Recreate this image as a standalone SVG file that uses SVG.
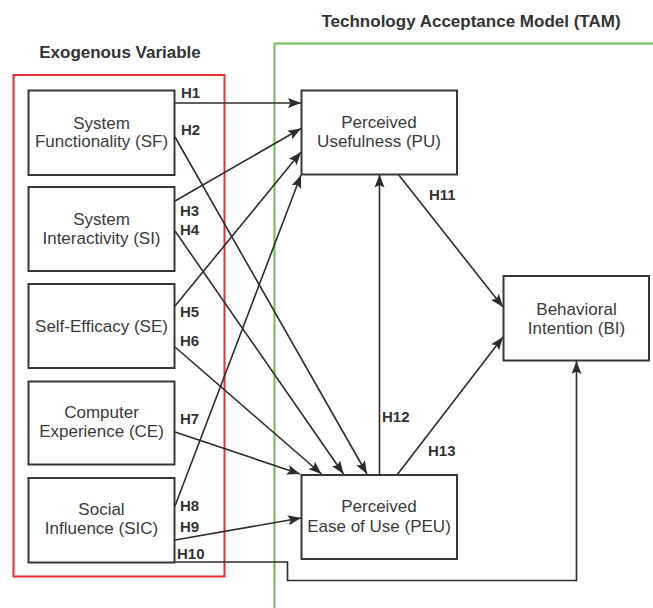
<svg xmlns="http://www.w3.org/2000/svg" width="653" height="608" viewBox="0 0 653 608">
<defs>
<marker id="arr" markerUnits="userSpaceOnUse" markerWidth="14" markerHeight="11" refX="13" refY="5" orient="auto">
<path d="M0,0 L13,5 L0,10 L2.5,5 z" fill="#2f2b2b"/>
</marker>
<style>
.box{fill:#fff;stroke:#3a3636;stroke-width:2}
.nt{font-family:"Liberation Sans",Arial,sans-serif;font-size:17px;fill:#3a3a3a;text-anchor:middle}
.ttl{font-family:"Liberation Sans",Arial,sans-serif;font-size:17px;font-weight:bold;fill:#333;text-anchor:middle}
.lb{font-family:"Liberation Sans",Arial,sans-serif;font-size:15px;font-weight:bold;fill:#333}
.c{fill:none;stroke:#2f2b2b;stroke-width:1.6;marker-end:url(#arr)}
</style>
</defs>
<rect width="653" height="608" fill="#fff"/>
<text class="ttl" x="471" y="27">Technology Acceptance Model (TAM)</text>
<text class="ttl" x="120" y="58">Exogenous Variable</text>
<rect x="274.5" y="43.5" width="400" height="600" fill="none" stroke="#6cc04a" stroke-width="2"/>
<rect x="13.5" y="75" width="211" height="501.5" fill="none" stroke="#ee2a35" stroke-width="2"/>

<g id="connectors">
<line class="c" x1="175" y1="103" x2="301" y2="103"/>
<line class="c" x1="175" y1="137" x2="367" y2="474"/>
<line class="c" x1="175" y1="201" x2="301" y2="128.5"/>
<line class="c" x1="175" y1="231" x2="343.5" y2="474"/>
<line class="c" x1="175" y1="306" x2="301" y2="152"/>
<line class="c" x1="175" y1="347" x2="321.5" y2="474"/>
<line class="c" x1="175" y1="432" x2="300" y2="474"/>
<line class="c" x1="175" y1="506" x2="301" y2="175"/>
<line class="c" x1="175" y1="540" x2="301" y2="518"/>
<path class="c" d="M175,562 H287.5 V580.5 H576.5 V361"/>
<line class="c" x1="398" y1="174" x2="503" y2="307"/>
<line class="c" x1="379.5" y1="475" x2="379.5" y2="174.5"/>
<line class="c" x1="397" y1="475" x2="503" y2="337"/>
</g>

<g id="labels">
<text class="lb" x="181" y="97.5">H1</text>
<text class="lb" x="181" y="134.5">H2</text>
<text class="lb" x="180" y="216">H3</text>
<text class="lb" x="180" y="234.5">H4</text>
<text class="lb" x="180" y="316.5">H5</text>
<text class="lb" x="180" y="345.5">H6</text>
<text class="lb" x="180" y="424">H7</text>
<text class="lb" x="180" y="511">H8</text>
<text class="lb" x="180" y="531.5">H9</text>
<text class="lb" x="177" y="558.5">H10</text>
<text class="lb" x="429" y="200">H11</text>
<text class="lb" x="382" y="422">H12</text>
<text class="lb" x="428" y="456">H13</text>
</g>

<g id="SF">
<rect class="box" x="28.5" y="90.5" width="146" height="84.5"/>
<text class="nt" x="101.5" y="128.5">System</text>
<text class="nt" x="101.5" y="147">Functionality (SF)</text>
</g>
<g id="SI">
<rect class="box" x="28.5" y="187" width="146" height="84"/>
<text class="nt" x="101.5" y="225">System</text>
<text class="nt" x="101.5" y="243.5">Interactivity (SI)</text>
</g>
<g id="SE">
<rect class="box" x="28.5" y="284" width="146" height="84"/>
<text class="nt" x="101.5" y="332">Self-Efficacy (SE)</text>
</g>
<g id="CE">
<rect class="box" x="28.5" y="381.5" width="146" height="83"/>
<text class="nt" x="101.5" y="418">Computer</text>
<text class="nt" x="101.5" y="437">Experience (CE)</text>
</g>
<g id="SIC">
<rect class="box" x="28.5" y="478" width="146" height="84.5"/>
<text class="nt" x="101.5" y="515">Social</text>
<text class="nt" x="101.5" y="533.5">Influence (SIC)</text>
</g>
<g id="PU">
<rect class="box" x="301.5" y="90.5" width="155.5" height="84"/>
<text class="nt" x="379" y="128">Perceived</text>
<text class="nt" x="379" y="147">Usefulness (PU)</text>
</g>
<g id="PEU">
<rect class="box" x="301.5" y="475" width="155.5" height="84"/>
<text class="nt" x="379" y="512">Perceived</text>
<text class="nt" x="379" y="532">Ease of Use (PEU)</text>
</g>
<g id="BI">
<rect class="box" x="503.5" y="276" width="145.5" height="84.5"/>
<text class="nt" x="576.5" y="315">Behavioral</text>
<text class="nt" x="576.5" y="334">Intention (BI)</text>
</g>
</svg>
